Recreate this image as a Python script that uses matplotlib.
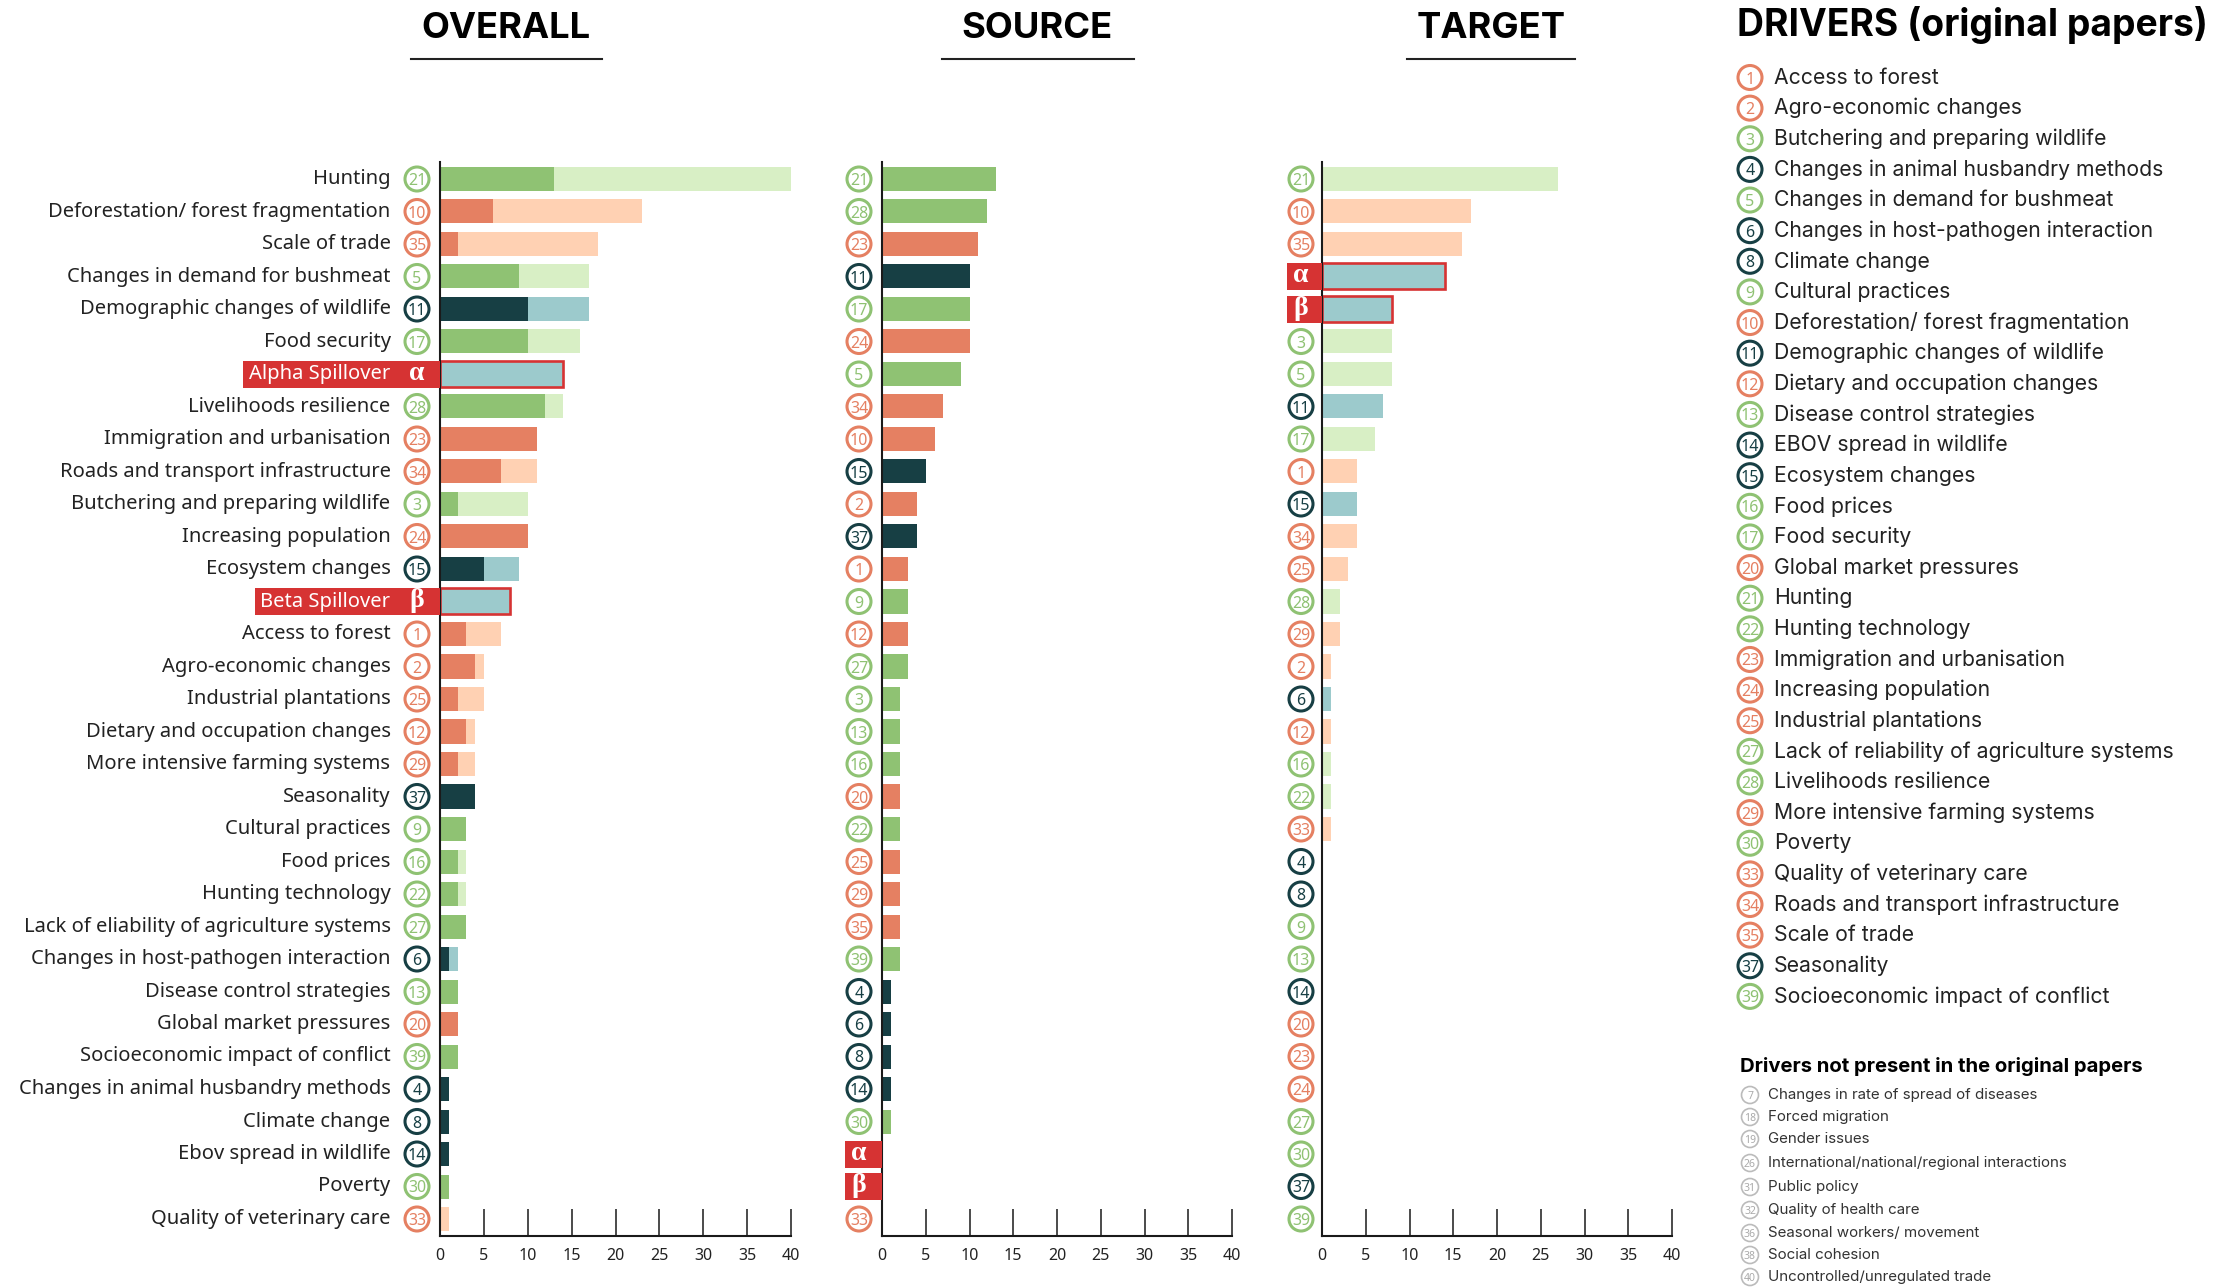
import matplotlib
matplotlib.use("Agg")
import matplotlib.pyplot as plt
from matplotlib.patches import Circle, Rectangle

# colours per driver group
RED_D, RED_L = '#E58062', '#FFD1B3'
GRN_D, GRN_L = '#8FC273', '#D8EFC5'
TEAL_D, TEAL_L = '#173F44', '#9CCACC'
SPILL = '#D63333'

red_ids = [1, 2, 10, 12, 20, 23, 24, 25, 29, 33, 34, 35]
green_ids = [3, 5, 9, 13, 16, 17, 21, 22, 27, 28, 30, 39]
teal_ids = [4, 6, 8, 11, 14, 15, 37]

# overall panel, a = alpha, b = beta
overall_ids = [21, 10, 35, 5, 11, 17, 'a', 28, 23, 34, 3, 24, 15, 'b', 1, 2, 25, 12, 29, 37,
               9, 16, 22, 27, 6, 13, 20, 39, 4, 8, 14, 30, 33]
overall_names = ['Hunting', 'Deforestation/ forest fragmentation', 'Scale of trade',
                 'Changes in demand for bushmeat', 'Demographic changes of wildlife', 'Food security',
                 'Alpha Spillover', 'Livelihoods resilience', 'Immigration and urbanisation',
                 'Roads and transport infrastructure', 'Butchering and preparing wildlife',
                 'Increasing population', 'Ecosystem changes', 'Beta Spillover', 'Access to forest',
                 'Agro-economic changes', 'Industrial plantations', 'Dietary and occupation changes',
                 'More intensive farming systems', 'Seasonality', 'Cultural practices', 'Food prices',
                 'Hunting technology', 'Lack of eliability of agriculture systems',
                 'Changes in host-pathogen interaction', 'Disease control strategies',
                 'Global market pressures', 'Socioeconomic impact of conflict',
                 'Changes in animal husbandry methods', 'Climate change', 'Ebov spread in wildlife',
                 'Poverty', 'Quality of veterinary care']
overall_source = [13, 6, 2, 9, 10, 10, 0, 12, 11, 7, 2, 10, 5, 0, 3, 4, 2, 3, 2, 4, 3, 2, 2, 3, 1, 2, 2, 2, 1, 1, 1, 1, 0]
overall_target = [27, 17, 16, 8, 7, 6, 14, 2, 0, 4, 8, 0, 4, 8, 4, 1, 3, 1, 2, 0, 0, 1, 1, 0, 1, 0, 0, 0, 0, 0, 0, 0, 1]

source_ids = [21, 28, 23, 11, 17, 24, 5, 34, 10, 15, 2, 37, 1, 9, 12, 27, 3, 13, 16, 20, 22, 25, 29, 35, 39,
              4, 6, 8, 14, 30, 'a', 'b', 33]
source_vals = [13, 12, 11, 10, 10, 10, 9, 7, 6, 5, 4, 4, 3, 3, 3, 3, 2, 2, 2, 2, 2, 2, 2, 2, 2, 1, 1, 1, 1, 1, 0, 0, 0]

target_ids = [21, 10, 35, 'a', 'b', 3, 5, 11, 17, 1, 15, 34, 25, 28, 29, 2, 6, 12, 16, 22, 33,
              4, 8, 9, 13, 14, 20, 23, 24, 27, 30, 37, 39]
target_vals = [27, 17, 16, 14, 8, 8, 8, 7, 6, 4, 4, 4, 3, 2, 2, 1, 1, 1, 1, 1, 1, 0, 0, 0, 0, 0, 0, 0, 0, 0, 0, 0, 0]

legend_ids = [1, 2, 3, 4, 5, 6, 8, 9, 10, 11, 12, 13, 14, 15, 16, 17, 20, 21, 22, 23, 24, 25, 27, 28, 29, 30,
              33, 34, 35, 37, 39]
legend_names = ['Access to forest', 'Agro-economic changes', 'Butchering and preparing wildlife',
                'Changes in animal husbandry methods', 'Changes in demand for bushmeat',
                'Changes in host-pathogen interaction', 'Climate change', 'Cultural practices',
                'Deforestation/ forest fragmentation', 'Demographic changes of wildlife',
                'Dietary and occupation changes', 'Disease control strategies', 'EBOV spread in wildlife',
                'Ecosystem changes', 'Food prices', 'Food security', 'Global market pressures', 'Hunting',
                'Hunting technology', 'Immigration and urbanisation', 'Increasing population',
                'Industrial plantations', 'Lack of reliability of agriculture systems',
                'Livelihoods resilience', 'More intensive farming systems', 'Poverty',
                'Quality of veterinary care', 'Roads and transport infrastructure', 'Scale of trade',
                'Seasonality', 'Socioeconomic impact of conflict']

other_ids = [7, 18, 19, 26, 31, 32, 36, 38, 40]
other_names = ['Changes in rate of spread of diseases', 'Forced migration', 'Gender issues',
               'International/national/regional interactions', 'Public policy', 'Quality of health care',
               'Seasonal workers/ movement', 'Social cohesion', 'Uncontrolled/unregulated trade']
other_y = [1095, 1117, 1139, 1163, 1187, 1210, 1233, 1255, 1277]

xticks = [0, 5, 10, 15, 20, 25, 30, 35, 40]

W, H = 2231, 1288
LABEL_FONT = 'Noto Sans'
LEGEND_FONT = 'Inter'
fig = plt.figure(figsize=(W / 100, H / 100), dpi=100, facecolor='white')

# overlay in pixel coordinates for the texts and circles
ov = fig.add_axes([0, 0, 1, 1], zorder=5)
ov.set_xlim(0, W)
ov.set_ylim(H, 0)
ov.axis('off')
ov.patch.set_alpha(0)


def group_colors(d):
    if d in red_ids:
        return RED_D, RED_L
    if d in green_ids:
        return GRN_D, GRN_L
    if d in teal_ids:
        return TEAL_D, TEAL_L
    return TEAL_L, TEAL_L


def badge(x, y, d, r=12, fs=11.5, col=None, lw=2.2, weight='semibold', tcol=None):
    if col is None:
        col = group_colors(d)[0]
    ov.add_patch(Circle((x, y), r, fc='white', ec=col, lw=lw))
    ov.text(x, y, str(d), color=tcol or col, fontsize=fs, ha='center', va='center_baseline',
            family=LABEL_FONT, weight=weight)


def greek(x0, x1, y, x, d):
    ov.add_patch(Rectangle((x0, y - 13.5), x1 - x0, 27, fc=SPILL, ec='none'))
    ov.text(x, y - 1, 'α' if d == 'a' else 'β', color='white', fontsize=20, ha='center', va='center',
            family='Liberation Serif', weight='bold')


def make_panel(x0, x1):
    ax = fig.add_axes([x0 / W, 1 - 1236 / H, (x1 - x0) / W, (1236 - 162) / H], zorder=2)
    ax.set_xlim(0, 40)
    ax.set_ylim(32.52, -0.52)
    for s in ['top', 'right']:
        ax.spines[s].set_visible(False)
    for s in ['left', 'bottom']:
        ax.spines[s].set_linewidth(1.5)
        ax.spines[s].set_color('#1a1a1a')
    ax.set_yticks([])
    ax.set_xticks(xticks)
    ax.tick_params(axis='x', direction='in', length=19.5, width=1.1, pad=9, labelsize=11.5, color='#1a1a1a')
    for t in ax.get_xticklabels():
        t.set_family(LABEL_FONT)
        t.set_color('#222222')
    return ax


def row_y(i):
    return 179 + 32.5 * i


BAR_H = 0.74
ax1 = make_panel(440, 791)
ax2 = make_panel(882, 1232)
ax3 = make_panel(1322, 1672)

# overall
for i, d in enumerate(overall_ids):
    s, t = overall_source[i], overall_target[i]
    if d in ('a', 'b'):
        ax1.barh(i, t, height=0.8, color=TEAL_L, edgecolor=SPILL, linewidth=1.9)
        x0 = 243 if d == 'a' else 255
        greek(x0, 440, row_y(i), 417, d)
        ov.text(390.5, row_y(i), overall_names[i], color='white', fontsize=14.5, ha='right', va='center',
                family=LABEL_FONT)
        continue
    dark, light = group_colors(d)
    ax1.barh(i, s, height=BAR_H, color=dark)
    ax1.barh(i, t, left=s, height=BAR_H, color=light)
    badge(417, row_y(i), d)
    ov.text(390.5, row_y(i), overall_names[i], color='#222222', fontsize=14.5, ha='right', va='center',
            family=LABEL_FONT)

# source
for i, d in enumerate(source_ids):
    if d in ('a', 'b'):
        greek(845, 882, row_y(i), 859, d)
        continue
    ax2.barh(i, source_vals[i], height=BAR_H, color=group_colors(d)[0])
    badge(859, row_y(i), d)

# target
for i, d in enumerate(target_ids):
    if d in ('a', 'b'):
        ax3.barh(i, target_vals[i], height=0.8, color=TEAL_L, edgecolor=SPILL, linewidth=1.9)
        greek(1287, 1322, row_y(i), 1301, d)
        continue
    ax3.barh(i, target_vals[i], height=BAR_H, color=group_colors(d)[1])
    badge(1301, row_y(i), d)

# panel titles with rule below
for title, cx, u0, u1 in [('OVERALL', 506, 411, 602), ('SOURCE', 1037, 942, 1134), ('TARGET', 1491, 1407, 1575)]:
    ov.text(cx, 28, title, fontsize=26.2, weight='bold', ha='center', va='center', family=LEGEND_FONT, color='black')
    ov.plot([u0, u1], [59, 59], color='#222222', lw=1.5)

# legend
ov.text(1737, 25, 'DRIVERS (original papers)', fontsize=26.8, weight='bold', ha='left', va='center',
        family=LEGEND_FONT, color='black')
for i, (d, name) in enumerate(zip(legend_ids, legend_names)):
    y = 77.5 + 30.63 * i
    badge(1750, y, d)
    ov.text(1774, y, name, fontsize=15.25, ha='left', va='center', family=LEGEND_FONT, color='#222222')

ov.text(1740, 1066, 'Drivers not present in the original papers', fontsize=14.6, weight='bold', ha='left',
        va='center', family=LEGEND_FONT, color='black')
for d, name, y in zip(other_ids, other_names, other_y):
    badge(1750, y, d, r=8.5, fs=7.5, col='#BBBBBB', lw=1.2, weight='normal', tcol='#AAAAAA')
    ov.text(1768, y, name, fontsize=10.9, ha='left', va='center', family=LEGEND_FONT, color='#333333')

fig.savefig('out.png', dpi=100, facecolor='white')
